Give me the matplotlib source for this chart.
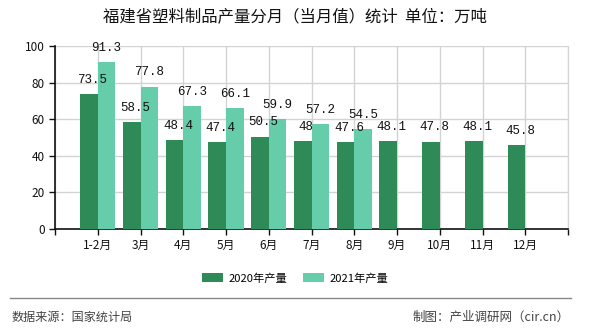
import numpy as np
import matplotlib
matplotlib.use("Agg")
import matplotlib.pyplot as plt
from matplotlib.lines import Line2D

plt.rcParams['font.family'] = ['Noto Sans CJK SC', 'DejaVu Sans']

# -----------------------------
# DATA
# -----------------------------
months = ["1-2月", "3月", "4月", "5月", "6月", "7月", "8月", "9月", "10月", "11月", "12月"]
output_2020 = [73.5, 58.5, 48.4, 47.4, 50.5, 48, 47.6, 48.1, 47.8, 48.1, 45.8]
output_2021 = [91.3, 77.8, 67.3, 66.1, 59.9, 57.2, 54.5]
series_names = ["2020年产量", "2021年产量"]

color_2020 = "#2E8B57"
color_2021 = "#66CDAA"

# -----------------------------
# FIGURE
# -----------------------------
fig = plt.figure(figsize=(5.9, 3.3), dpi=100)
ax = fig.add_axes([55 / 590, 1 - 229 / 330, (568 - 55) / 590, (229 - 46) / 330])

x_2020 = np.arange(len(output_2020))
x_2021 = np.arange(len(output_2021))
bar_width = 0.41

bars_2020 = ax.bar(x_2020 - bar_width / 2, output_2020, width=bar_width,
                   color=color_2020, zorder=3, label=series_names[0])
bars_2021 = ax.bar(x_2021 + bar_width / 2, output_2021, width=bar_width,
                   color=color_2021, zorder=3, label=series_names[1])

label_font = dict(family=["Liberation Mono", "DejaVu Sans Mono"], fontsize=9, color="#111111")
for rect, value in zip(bars_2020, output_2020):
    ax.annotate(f"{value:g}", (rect.get_x() + rect.get_width() / 2 + 0.08, rect.get_height()),
                xytext=(0, 6), textcoords="offset points", ha="center", va="bottom",
                **label_font)
for rect, value in zip(bars_2021, output_2021):
    ax.annotate(f"{value:g}", (rect.get_x() + rect.get_width() / 2, rect.get_height()),
                xytext=(0, 6), textcoords="offset points", ha="center", va="bottom",
                **label_font)

# axes and grid
ax.set_xlim(-1, len(months))
ax.set_ylim(0, 100)
ax.set_xticks(np.arange(-1, len(months) + 1))
ax.set_xticklabels([""] + months + [""])
ax.set_yticks(np.arange(0, 101, 20))
ax.tick_params(axis="both", labelsize=8.5, colors="#111111", length=4, width=1)
ax.tick_params(axis="x", pad=3)
ax.grid(True, color="#D3D3D3", linewidth=1, zorder=0)

for side in ["left", "bottom"]:
    ax.spines[side].set_color("#111111")
    ax.spines[side].set_linewidth(1.2)
ax.spines["top"].set_visible(False)
ax.spines["right"].set_color("#D3D3D3")

# -----------------------------
# TEXT AND LEGEND
# -----------------------------
fig.text(0.5, 1 - 17 / 330, "福建省塑料制品产量分月（当月值）统计  单位：万吨",
         ha="center", va="center", fontsize=11.8, color="#111111")

fig.legend(handles=[bars_2020, bars_2021], labels=series_names,
           loc="center", bbox_to_anchor=(0.5, 1 - 278 / 330), ncol=2, frameon=False,
           fontsize=8.1, handlelength=1.87, handleheight=0.8, columnspacing=1.42,
           handletextpad=0.5)

fig.add_artist(Line2D([10 / 590, 571 / 590], [1 - 298 / 330, 1 - 298 / 330],
                      color="#888888", linewidth=1))
fig.text(12 / 590, 1 - 317 / 330, "数据来源：国家统计局", ha="left", va="center",
         fontsize=8.7, color="#444444")
fig.text(570 / 590, 1 - 317 / 330, "制图：产业调研网（cir.cn）", ha="right", va="center",
         fontsize=9, color="#444444")

fig.savefig("out.png", dpi=100)
